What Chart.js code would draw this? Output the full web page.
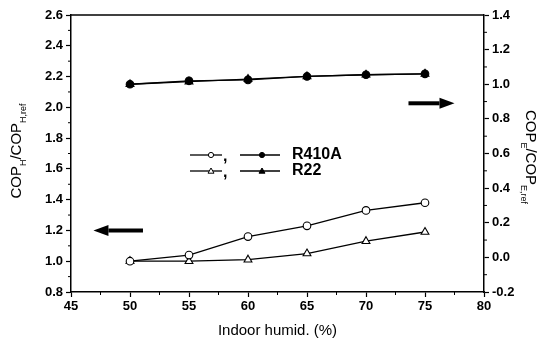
<!DOCTYPE html>
<html>
<head>
<meta charset="UTF-8">
<title>COP vs indoor humidity</title>
<script src="https://cdn.jsdelivr.net/npm/chart.js"></script>
<style>
    html, body { margin: 0; padding: 0; background: #fff; }
    .wrap { position: relative; width: 547px; height: 345px; }
</style>
</head>
<body>
<div class="wrap"><canvas id="copChart" width="547" height="345"></canvas></div>
<script>
// data
const humidity = [50, 55, 60, 65, 70, 75];
const heatR410A = [1.0, 1.04, 1.16, 1.23, 1.33, 1.38];
const heatR22 = [1.0, 1.0, 1.01, 1.05, 1.13, 1.19];
const coolR410A = [1.0, 1.02, 1.025, 1.045, 1.055, 1.06];
const coolR22 = [1.0, 1.015, 1.03, 1.045, 1.055, 1.06];
const legendNames = ['R410A', 'R22'];

const FONT = '"Liberation Sans", Arial, sans-serif';

function pts(ys) {
    return humidity.map((x, i) => ({ x: x, y: ys[i] }));
}

function series(label, ys, axis, style, filled) {
    return {
        label: label,
        data: pts(ys),
        yAxisID: axis,
        borderColor: '#000',
        borderWidth: 1.3,
        pointStyle: style,
        pointRadius: style === 'triangle' ? 4.5 : 3.8,
        pointBorderWidth: 1.1,
        pointBorderColor: '#000',
        pointBackgroundColor: filled ? '#000' : '#fff',
        showLine: true,
        tension: 0
    };
}

function fmt(v) {
    return (Math.abs(v) < 1e-9 ? 0 : v).toFixed(1);
}

// text with subscripts, centred on (x, y), rotated by angle
function richText(ctx, parts, x, y, angle, size) {
    ctx.save();
    ctx.translate(x, y);
    ctx.rotate(angle);
    const subSize = Math.round(size * 0.62);
    let w = 0;
    parts.forEach(p => {
        ctx.font = (p.sub ? subSize : size) + 'px ' + FONT;
        w += ctx.measureText(p.t).width;
    });
    let cx = -w / 2;
    ctx.fillStyle = '#000';
    ctx.textBaseline = 'middle';
    ctx.textAlign = 'left';
    parts.forEach(p => {
        ctx.font = (p.sub ? subSize : size) + 'px ' + FONT;
        ctx.fillText(p.t, cx, p.sub ? size * 0.42 : 0);
        cx += ctx.measureText(p.t).width;
    });
    ctx.restore();
}

function arrow(ctx, x1, x2, y) {
    // arrow from x1 to x2 (head at x2)
    const dir = Math.sign(x2 - x1);
    const headLen = 15;
    ctx.save();
    ctx.strokeStyle = '#000';
    ctx.fillStyle = '#000';
    ctx.lineWidth = 4;
    ctx.beginPath();
    ctx.moveTo(x1, y);
    ctx.lineTo(x2 - dir * headLen, y);
    ctx.stroke();
    ctx.beginPath();
    ctx.moveTo(x2, y);
    ctx.lineTo(x2 - dir * headLen, y - 5.5);
    ctx.lineTo(x2 - dir * headLen, y + 5.5);
    ctx.closePath();
    ctx.fill();
    ctx.restore();
}

const decorPlugin = {
    id: 'decor',
    afterDraw(chart) {
        const ctx = chart.ctx;
        const area = chart.chartArea;
        const sx = chart.scales.x, sy = chart.scales.y, sy2 = chart.scales.y2;

        // frame top line
        ctx.save();
        ctx.strokeStyle = '#000';
        ctx.lineWidth = 1.5;
        ctx.beginPath();
        ctx.moveTo(area.left, area.top);
        ctx.lineTo(area.right, area.top);
        ctx.stroke();

        // minor ticks
        ctx.lineWidth = 1;
        ctx.beginPath();
        for (let v = 47.5; v < 80; v += 5) {
            const px = sx.getPixelForValue(v);
            ctx.moveTo(px, area.bottom);
            ctx.lineTo(px, area.bottom + 3);
        }
        for (let v = 0.9; v < 2.6; v += 0.2) {
            const py = sy.getPixelForValue(v);
            ctx.moveTo(area.left, py);
            ctx.lineTo(area.left - 3, py);
        }
        for (let v = -0.1; v < 1.4; v += 0.2) {
            const py = sy2.getPixelForValue(v);
            ctx.moveTo(area.right, py);
            ctx.lineTo(area.right + 3, py);
        }
        ctx.stroke();
        ctx.restore();

        // arrows pointing to the axis each group belongs to
        arrow(ctx, sx.getPixelForValue(51.1), sx.getPixelForValue(46.9), sy.getPixelForValue(1.2));
        arrow(ctx, sx.getPixelForValue(73.6), sx.getPixelForValue(77.5), sy2.getPixelForValue(0.89));

        // legend
        const ds = chart.data.datasets;
        const rows = [[ds[0], ds[2]], [ds[1], ds[3]]];
        const rowY = [155, 171];
        rows.forEach((pair, r) => {
            const y = rowY[r];
            ctx.save();
            [[190, 222, 211], [240, 280, 262]].forEach((seg, k) => {
                const d = pair[k];
                ctx.strokeStyle = '#000';
                ctx.lineWidth = 1.3;
                ctx.beginPath();
                ctx.moveTo(seg[0], y);
                ctx.lineTo(seg[1], y);
                ctx.stroke();
                ctx.lineWidth = 1;
                ctx.fillStyle = d.pointBackgroundColor;
                ctx.beginPath();
                if (d.pointStyle === 'circle') {
                    ctx.arc(seg[2], y, 2.6, 0, Math.PI * 2);
                } else {
                    ctx.moveTo(seg[2], y - 3);
                    ctx.lineTo(seg[2] + 3, y + 2.2);
                    ctx.lineTo(seg[2] - 3, y + 2.2);
                    ctx.closePath();
                }
                ctx.fill();
                ctx.stroke();
            });
            ctx.fillStyle = '#000';
            ctx.font = 'bold 16px ' + FONT;
            ctx.textBaseline = 'middle';
            ctx.fillText(',', 223, y + 2);
            ctx.fillText(legendNames[r], 292, y);
            ctx.restore();
        });

        // axis titles
        richText(ctx, [{ t: 'COP' }, { t: 'H', sub: true }, { t: '/COP' }, { t: 'H,ref', sub: true }],
            17, 151, -Math.PI / 2, 15);
        richText(ctx, [{ t: 'COP' }, { t: 'E', sub: true }, { t: '/COP' }, { t: 'E,ref', sub: true }],
            530, 157, Math.PI / 2, 15);
        ctx.save();
        ctx.fillStyle = '#000';
        ctx.font = '15px ' + FONT;
        ctx.textAlign = 'center';
        ctx.textBaseline = 'middle';
        ctx.fillText('Indoor humid. (%)', (area.left + area.right) / 2, 331);
        ctx.restore();
    }
};

const tickFont = { family: FONT, size: 13, weight: 'bold' };
const axisGrid = {
    display: true,
    drawOnChartArea: false,
    drawTicks: true,
    tickLength: 5,
    tickColor: '#000',
    tickWidth: 1.2
};

new Chart(document.getElementById('copChart'), {
    type: 'scatter',
    data: {
        datasets: [
            series('R410A heating', heatR410A, 'y', 'circle', false),
            series('R22 heating', heatR22, 'y', 'triangle', false),
            series('R410A cooling', coolR410A, 'y2', 'circle', true),
            series('R22 cooling', coolR22, 'y2', 'triangle', true)
        ]
    },
    options: {
        responsive: false,
        animation: false,
        layout: { padding: { top: 15, left: 0, right: 0, bottom: 0 } },
        plugins: { legend: { display: false }, tooltip: { enabled: false } },
        scales: {
            x: {
                type: 'linear',
                min: 45, max: 80,
                grid: axisGrid,
                border: { display: true, color: '#000', width: 1.5 },
                ticks: { stepSize: 5, color: '#000', font: tickFont, padding: 2, maxRotation: 0 },
                afterFit(scale) { scale.height = 53; }
            },
            y: {
                position: 'left',
                min: 0.8, max: 2.6,
                grid: axisGrid,
                border: { display: true, color: '#000', width: 1.5 },
                ticks: { stepSize: 0.2, color: '#000', font: tickFont, padding: 3, callback: fmt },
                afterFit(scale) { scale.width = 71; }
            },
            y2: {
                position: 'right',
                min: -0.2, max: 1.4,
                grid: axisGrid,
                border: { display: true, color: '#000', width: 1.5 },
                ticks: { stepSize: 0.2, color: '#000', font: tickFont, padding: 3, callback: fmt },
                afterFit(scale) { scale.width = 63; }
            }
        }
    },
    plugins: [decorPlugin]
});
</script>
</body>
</html>
